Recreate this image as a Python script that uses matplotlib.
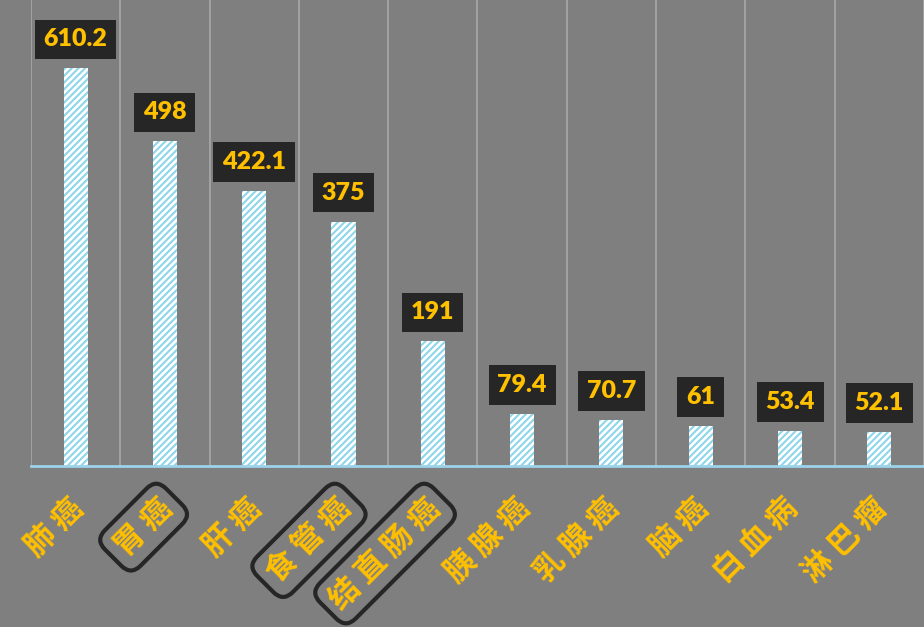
import matplotlib.pyplot as plt

plt.rcParams['font.family'] = ['Noto Sans CJK SC', 'DejaVu Sans']
plt.rcParams['hatch.linewidth'] = 1.5

# data
categories = ['肺癌', '胃癌', '肝癌', '食管癌', '结直肠癌', '胰腺癌', '乳腺癌', '脑癌', '白血病', '淋巴瘤']
values = [610.2, 498, 422.1, 375, 191, 79.4, 70.7, 61, 53.4, 52.1]
labels = ['610.2', '498', '422.1', '375', '191', '79.4', '70.7', '61', '53.4', '52.1']
boxed = ['胃癌', '食管癌', '结直肠癌']

bg = '#7f7f7f'
gold = '#ffc000'

fig = plt.figure(figsize=(9.24, 6.27), dpi=100, facecolor=bg)
ax = fig.add_axes([0.0335, 0.257, 0.9665, 0.743])
ax.set_facecolor(bg)

x = list(range(len(categories)))
ax.bar(x, values, width=0.27, color='white', edgecolor='#8ed6ea', linewidth=0, hatch='/////', zorder=2)

ax.set_xlim(-0.5, len(categories) - 0.5)
ax.set_ylim(0, 715)

# vertical separators between categories
for b in range(len(categories) + 1):
    ax.axvline(b - 0.5, color='#a9a9a9', lw=1.2, zorder=1)
ax.axhline(0, color='#9dd3ea', lw=2, zorder=3, clip_on=False)

for s in ax.spines.values():
    s.set_visible(False)
ax.set_xticks([])
ax.set_yticks([])

# value labels
for i, v in enumerate(values):
    ax.annotate(labels[i], (i, v), xytext=(0, 29), textcoords='offset pixels',
                ha='center', va='center', color=gold, fontsize=18, fontweight='heavy',
                family=['Lato', 'DejaVu Sans'],
                bbox=dict(boxstyle='square,pad=0.35', fc='#262626', ec='none'))

# category labels
for i, c in enumerate(categories):
    bb = None
    if c in boxed:
        bb = dict(boxstyle='round,pad=0.3,rounding_size=0.45', fc='none', ec='#262626', lw=3)
    ax.text(i + 0.03, -0.08, ' '.join(c), transform=ax.get_xaxis_transform(), rotation=45,
            rotation_mode='anchor', ha='right', va='center', color=gold,
            fontsize=22, fontweight='heavy', bbox=bb)

fig.savefig('out.png', dpi=100, facecolor=bg)
